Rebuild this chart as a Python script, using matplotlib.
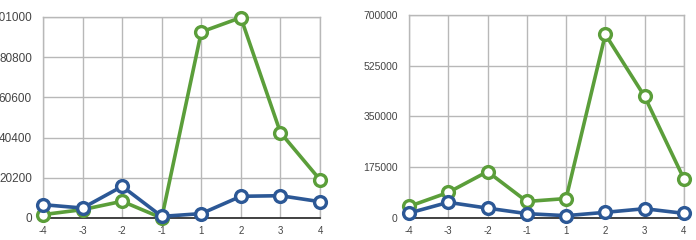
import numpy as np
import matplotlib.pyplot as plt

plt.rcParams['font.family'] = ['Liberation Sans', 'DejaVu Sans']

categories = ["-4", "-3", "-2", "-1", "1", "2", "3", "4"]

left_green = [1700, 4200, 8400, 0, 93500, 100700, 42900, 19200]
left_blue = [6700, 5000, 15900, 800, 2200, 10900, 11200, 8200]
left_ticks = [0, 20200, 40400, 60600, 80800, 101000]

right_green = [40000, 88000, 160000, 57000, 67000, 633000, 419000, 135000]
right_blue = [17000, 54000, 34000, 15000, 8000, 19500, 32000, 16000]
right_ticks = [0, 175000, 350000, 525000, 700000]

green = "#5b9e3a"
blue = "#2c5896"

fig = plt.figure(figsize=(6.96, 2.4), dpi=100)
ax1 = fig.add_axes([0.0618, 0.0917, 0.398, 0.8375])
ax2 = fig.add_axes([0.5876, 0.0917, 0.395, 0.846])

x = np.arange(len(categories))

for ax, g, b, ticks, ysize in [(ax1, left_green, left_blue, left_ticks, 8.5),
                               (ax2, right_green, right_blue, right_ticks, 7.5)]:
    for vals, col in [(g, green), (b, blue)]:
        ax.plot(x, vals, color=col, linewidth=2.6, marker="o",
                markersize=8.5, markerfacecolor="white",
                markeredgecolor=col, markeredgewidth=2.4,
                clip_on=False, zorder=3)
    ax.set_xlim(0, len(categories) - 1)
    ax.set_ylim(ticks[0], ticks[-1])
    ax.set_xticks(x)
    ax.set_xticklabels(categories)
    ax.set_yticks(ticks)
    ax.set_yticklabels([str(t) for t in ticks])
    ax.grid(color="#b8b8b8", linewidth=1)
    ax.set_axisbelow(True)
    for side in ["top", "right", "left"]:
        ax.spines[side].set_color("#b8b8b8")
        ax.spines[side].set_linewidth(1)
    ax.spines["bottom"].set_color("#222222")
    ax.spines["bottom"].set_linewidth(1.2)
    ax.tick_params(length=0, labelsize=7, colors="#444444", pad=6)
    ax.tick_params(axis="y", pad=8, labelsize=ysize)

plt.savefig("out.png", dpi=100)
